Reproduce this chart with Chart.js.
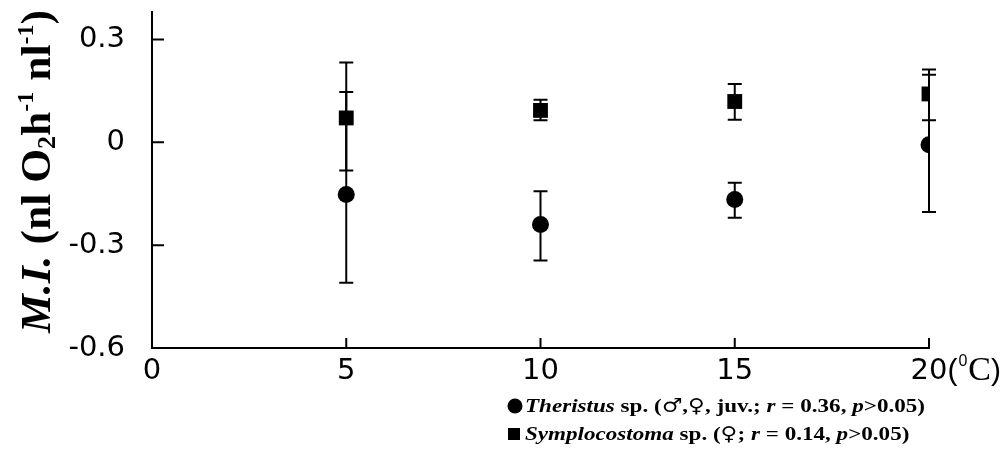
<!DOCTYPE html>
<html>
<head>
<meta charset="utf-8">
<script src="https://cdn.jsdelivr.net/npm/chart.js@4.4.1/dist/chart.umd.min.js"></script>
<style>
	html, body { margin: 0; padding: 0; background: #fff; }
	#wrap { width: 1008px; height: 452px; }
</style>
</head>
<body>
<div id="wrap"><canvas id="chart" width="1008" height="452"></canvas></div>
<script>
// temperature (deg C) on x
const temps = [5, 10, 15, 20];

// Theristus sp. (circles): mean and error bar ends
const theristusMean = [-0.152, -0.240, -0.167, -0.007];
const theristusLow = [-0.410, -0.345, -0.220, -0.203];
const theristusHigh = [0.147, -0.143, -0.118, 0.197];

// Symplocostoma sp. (squares)
const symploMean = [0.071, 0.093, 0.119, 0.141];
const symploLow = [-0.082, 0.064, 0.066, 0.064];
const symploHigh = [0.233, 0.124, 0.170, 0.212];

const xTicks = [0, 5, 10, 15, 20];
const yTicks = [-0.6, -0.3, 0, 0.3];

const sans = '"DejaVu Sans", sans-serif';
const serif = '"Liberation Serif", "DejaVu Serif", serif';
const symbolFont = '"DejaVu Serif", serif';

// draw text made of several styled pieces
function drawPieces(ctx, pieces, x, y, size) {
	let cx = x;
	pieces.forEach(p => {
		const s = size * (p.scale || 1);
		ctx.font = (p.style || 'bold') + ' ' + s + 'px ' + (p.family || serif);
		ctx.fillText(p.t, cx, y + (p.dy || 0) * size);
		cx += ctx.measureText(p.t).width;
	});
}

function piecesWidth(ctx, pieces, size) {
	let w = 0;
	pieces.forEach(p => {
		ctx.font = (p.style || 'bold') + ' ' + size * (p.scale || 1) + 'px ' + (p.family || serif);
		w += ctx.measureText(p.t).width;
	});
	return w;
}

const errorBars = {
	id: 'errorBars',
	beforeDatasetsDraw(chart) {
		const ctx = chart.ctx;
		const x = chart.scales.x, y = chart.scales.y;
		const sets = [[theristusLow, theristusHigh], [symploLow, symploHigh]];
		ctx.save();
		ctx.strokeStyle = '#000';
		ctx.lineWidth = 2;
		sets.forEach(([lo, hi]) => {
			temps.forEach((t, i) => {
				const px = x.getPixelForValue(t);
				const y1 = y.getPixelForValue(lo[i]);
				const y2 = y.getPixelForValue(hi[i]);
				ctx.beginPath();
				ctx.moveTo(px, y1); ctx.lineTo(px, y2);
				ctx.moveTo(px - 7, y1); ctx.lineTo(px + 7, y1);
				ctx.moveTo(px - 7, y2); ctx.lineTo(px + 7, y2);
				ctx.stroke();
			});
		});
		ctx.restore();
	}
};

const decorations = {
	id: 'decorations',
	afterDraw(chart) {
		const ctx = chart.ctx;
		const x = chart.scales.x, y = chart.scales.y;
		const area = chart.chartArea;
		ctx.save();
		ctx.strokeStyle = '#000';
		ctx.fillStyle = '#000';
		ctx.lineWidth = 2;

		// inward tick marks
		ctx.beginPath();
		yTicks.forEach(v => {
			const py = y.getPixelForValue(v);
			ctx.moveTo(area.left, py); ctx.lineTo(area.left + 12, py);
		});
		xTicks.forEach(v => {
			const px = x.getPixelForValue(v);
			ctx.moveTo(px, area.bottom); ctx.lineTo(px, area.bottom - 10);
		});
		ctx.stroke();

		// unit after the last x label
		ctx.textBaseline = 'alphabetic';
		ctx.textAlign = 'left';
		ctx.font = '29px ' + sans;
		const px20 = x.getPixelForValue(20);
		let ux = px20 + ctx.measureText('20').width / 2;
		const base = 380;
		ctx.font = '30px "Liberation Sans", sans-serif';
		ctx.fillText('(', ux, base);
		ux += ctx.measureText('(').width + 1;
		ctx.font = '16px "Liberation Sans", sans-serif';
		ctx.fillText('0', ux, base - 14);
		ux += ctx.measureText('0').width + 1;
		ctx.font = '34px ' + serif;
		ctx.fillText('C', ux, base);
		ux += ctx.measureText('C').width;
		ctx.font = '30px "Liberation Sans", sans-serif';
		ctx.fillText(')', ux, base);

		// y axis title, rotated
		const title = [
			{ t: 'M.I.', style: 'italic bold' },
			{ t: ' (nl O' },
			{ t: '2', scale: 0.6, dy: 0.12 },
			{ t: 'h' },
			{ t: '-1', scale: 0.55, dy: -0.4 },
			{ t: ' nl' },
			{ t: '-1', scale: 0.55, dy: -0.4 },
			{ t: ')' }
		];
		const tSize = 42;
		const tw = piecesWidth(ctx, title, tSize);
		ctx.save();
		ctx.translate(50, 333);
		ctx.rotate(-Math.PI / 2);
		ctx.scale(323 / tw, 1);
		drawPieces(ctx, title, 0, 0, tSize);
		ctx.restore();

		// legend
		const line1 = [
			{ t: 'Theristus', style: 'italic bold' },
			{ t: ' sp. (' },
			{ t: '\u2642', family: symbolFont, style: 'normal' },
			{ t: ',' },
			{ t: '\u2640', family: symbolFont, style: 'normal' },
			{ t: ', juv.; ' },
			{ t: 'r', style: 'italic bold' },
			{ t: ' = 0.36, ' },
			{ t: 'p', style: 'italic bold' },
			{ t: '>0.05)' }
		];
		const line2 = [
			{ t: 'Symplocostoma', style: 'italic bold' },
			{ t: ' sp. (' },
			{ t: '\u2640', family: symbolFont, style: 'normal' },
			{ t: '; ' },
			{ t: 'r', style: 'italic bold' },
			{ t: ' = 0.14, ' },
			{ t: 'p', style: 'italic bold' },
			{ t: '>0.05)' }
		];
		const lSize = 19;
		const lScale = 400 / piecesWidth(ctx, line1, lSize);
		[[line1, 412], [line2, 440]].forEach(([pieces, by]) => {
			ctx.save();
			ctx.translate(525, by);
			ctx.scale(lScale, 1);
			drawPieces(ctx, pieces, 0, 0, lSize);
			ctx.restore();
		});
		ctx.beginPath();
		ctx.arc(515, 406, 7.5, 0, Math.PI * 2);
		ctx.fill();
		ctx.fillRect(508, 428, 12, 12);

		ctx.restore();
	}
};

new Chart(document.getElementById('chart'), {
	type: 'scatter',
	data: {
		datasets: [
			{
				label: 'Theristus sp.',
				data: temps.map((t, i) => ({ x: t, y: theristusMean[i] })),
				pointStyle: 'circle',
				pointRadius: 8.5,
				backgroundColor: '#000',
				borderWidth: 0
			},
			{
				label: 'Symplocostoma sp.',
				data: temps.map((t, i) => ({ x: t, y: symploMean[i] })),
				pointStyle: 'rect',
				pointRadius: 10.5,
				backgroundColor: '#000',
				borderWidth: 0
			}
		]
	},
	options: {
		responsive: false,
		animation: false,
		devicePixelRatio: 1,
		layout: { padding: { left: 0, right: 79, top: 12, bottom: 54 } },
		plugins: {
			legend: { display: false },
			tooltip: { enabled: false }
		},
		scales: {
			x: {
				type: 'linear',
				min: 0,
				max: 20,
				afterBuildTicks: s => { s.ticks = xTicks.map(v => ({ value: v })); },
				afterFit: s => { s.height = 50; s.paddingLeft = 0; s.paddingRight = 0; },
				grid: { display: false, drawTicks: false },
				border: { display: true, color: '#000', width: 2 },
				ticks: {
					color: '#000',
					padding: 6,
					font: { family: sans, size: 29 },
					callback: v => String(v)
				}
			},
			y: {
				min: -0.6,
				max: 0.38,
				afterBuildTicks: s => { s.ticks = yTicks.map(v => ({ value: v })); },
				afterFit: s => { s.width = 152; s.paddingTop = 0; s.paddingBottom = 0; },
				grid: { display: false, drawTicks: false },
				border: { display: true, color: '#000', width: 2 },
				ticks: {
					color: '#000',
					padding: 27,
					font: { family: sans, size: 29 },
					callback: v => (v === 0 ? '0' : v.toFixed(1))
				}
			}
		}
	},
	plugins: [errorBars, decorations]
});
</script>
</body>
</html>
